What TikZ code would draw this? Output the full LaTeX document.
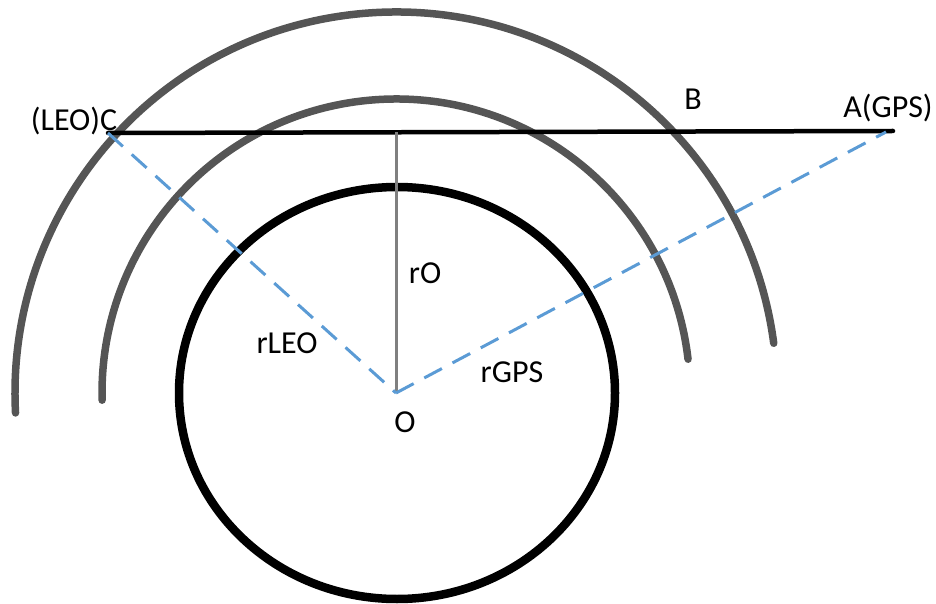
\documentclass[tikz,border=0pt]{standalone}
\usepackage{fontspec}
\setmainfont{Carlito}
\usetikzlibrary{calc}
\begin{document}
\begin{tikzpicture}[x=1pt,y=1pt,
  orbit/.style={draw={rgb,255:red,85;green,85;blue,85}, line width=7.5pt, line cap=round},
  earth/.style={draw=black, line width=8.5pt},
  chord/.style={draw=black, line width=4.5pt, line cap=round},
  radius line/.style={draw={rgb,255:red,91;green,155;blue,213}, line width=3pt, dash pattern=on 20pt off 12pt},
  height line/.style={draw={rgb,255:red,128;green,128;blue,128}, line width=3pt},
  lbl/.style={font=\fontsize{32}{38}\selectfont, inner sep=0pt, anchor=base}]
\useasboundingbox (0,0) rectangle (936,603);
% key points
\coordinate (O) at (396,210);
\coordinate (E) at (397,210);
\coordinate (C) at (108,470);
\coordinate (A) at (893,472);
\coordinate (Ad) at (886,471);
\coordinate (T) at (396,470.5);
% orbits (arcs)
\draw[orbit] ($(O)+(7.5:381)$) arc[start angle=7.5, end angle=183, radius=381];
\draw[orbit] ($(O)+(6.6:294)$) arc[start angle=6.6, end angle=181.4, radius=294];
% earth
\draw[earth] (E) ellipse[x radius=218, y radius=206];
% lines
\draw[chord] (C) -- (A);
\draw[height line] (T) -- (O);
\draw[radius line] (C) -- (O);
\draw[radius line] (O) -- (Ad);
% labels
\node[lbl] (lC) at (74,472) {(LEO)C};
\node[lbl] (lB) at (693,493) {B};
\node[lbl] (lA) at (888,485) {A(GPS)};
\node[lbl] (lrO) at (425,319) {rO};
\node[lbl] (lrLEO) at (287,250) {rLEO};
\node[lbl] (lrGPS) at (512,221) {rGPS};
\node[lbl] (lO) at (405,171) {O};
\end{tikzpicture}
\end{document}
